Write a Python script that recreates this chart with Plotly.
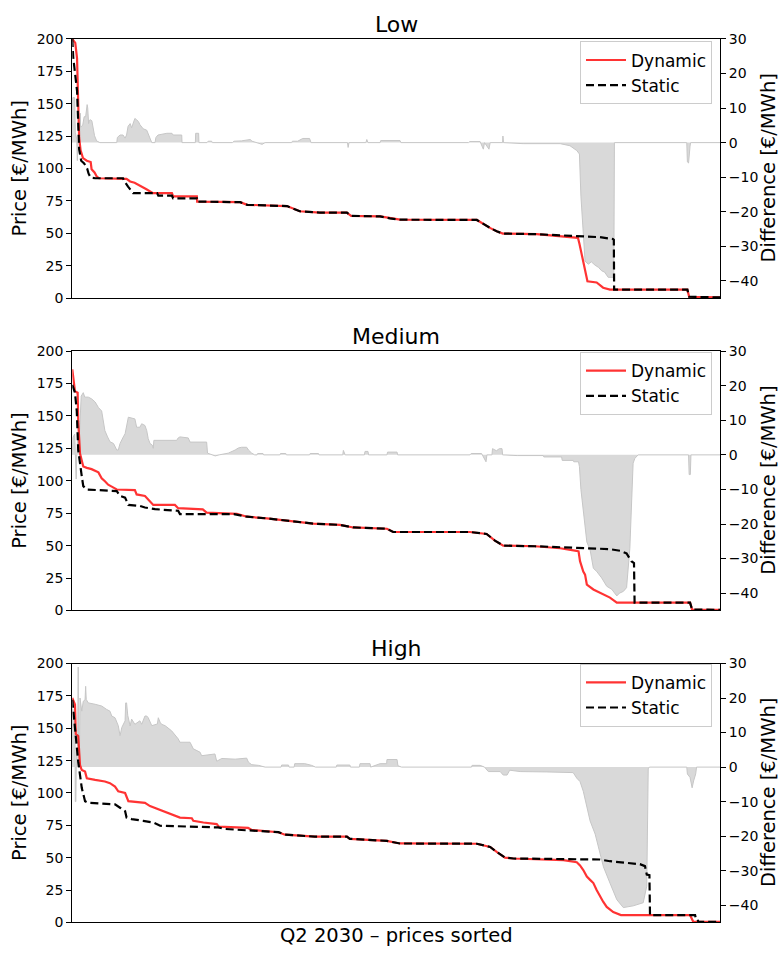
import plotly.graph_objects as go

# Sorted hourly prices for Q2 2030 (2184 hours), three demand-flexibility scenarios.
# Each series is given as (hour rank, value) breakpoints.

low_dynamic_h = [0, 10, 16, 20, 23, 28, 32, 36, 49, 62, 65, 75, 82, 90, 183, 195, 210, 228, 250, 272,
                 336, 340, 420, 421, 566, 590, 724, 767, 835, 926, 940, 1038, 1071, 1105, 1364, 1380,
                 1410, 1431, 1452, 1566, 1655, 1705, 1710, 1715, 1723, 1737, 1768, 1790, 1813, 2074,
                 2080, 2184]
low_dynamic_p = [200, 197, 185, 150, 124, 114, 110, 108, 106, 105, 99.5, 97, 94, 92.5, 92, 90, 89, 87, 84, 81,
                 81, 78.5, 78.5, 74.5, 74, 72, 71, 67, 66, 66, 63.5, 63, 61.5, 60.5, 60.3, 58,
                 54, 51.5, 49.8, 49.3, 47.6, 46.5, 42, 37, 29, 13, 12, 8, 6.5, 6.5,
                 1, 0.5]

low_static_h = [0, 3, 16, 20, 23, 30, 40, 50, 55, 62, 77, 171, 176, 188, 200, 205, 286, 290, 336, 340,
                420, 421, 566, 590, 724, 767, 835, 926, 940, 1038, 1071, 1105, 1364, 1380, 1410, 1431,
                1452, 1566, 1655, 1712, 1779, 1823, 1826, 1827, 2074, 2080, 2184]
low_static_p = [200, 186, 160, 135, 115, 106, 104, 100, 96, 93, 92.5, 92.5, 90, 86, 82, 81, 81, 79, 79, 77,
                77, 74.5, 74, 72, 71, 67, 66, 66, 63.5, 63, 61.5, 60.5, 60.3, 58, 54, 51.5,
                49.8, 49.3, 48.5, 48, 47, 45.5, 45, 6.5, 6.5, 1, 0.5]

low_diff_h = [0, 1, 8, 10, 15, 17, 19, 22, 25, 27, 28, 35, 40, 45, 48, 50, 52, 55, 58, 62, 66, 70, 75, 82,
              93, 150, 152, 161, 171, 178, 183, 188, 195, 200, 206, 211, 217, 223, 228, 234, 239, 251,
              256, 262, 268, 279, 282, 289, 302, 319, 336, 340, 369, 370, 415, 416, 426, 427, 454, 458,
              470, 472, 540, 545, 570, 600, 606, 620, 640, 650, 740, 742, 760, 777, 800, 805, 928, 930,
              933, 990, 993, 997, 1038, 1040, 1105, 1108, 1336, 1340, 1375, 1386, 1390, 1405, 1409,
              1451, 1452, 1454, 1520, 1645, 1655, 1678, 1701, 1710, 1715, 1723, 1729, 1740, 1750, 1763,
              1774, 1785, 1795, 1807, 1819, 1826, 1828, 2072, 2074, 2078, 2083, 2085, 2184]
low_diff_d = [0, 13, 13, 3, 1, -5.2, 0, 1.5, 2, 8.5, 4.5, 5, 7.5, 7.5, 9.5, 11, 10, 5.5, 6.5, 6.6, 6.3, 4, 2, 0.5,
              0, 0, 1.5, 2.2, 2.2, 1.3, 2.2, 4.7, 5.5, 4.3, 6.1, 7, 6.6, 6.1, 5.2, 4.7, 4, 3.6,
              2.4, 1, 0, 0, 1.5, 2.2, 2.5, 2.7, 2.7, 2.2, 2.2, 0, 0, 2.7, 2.7, 0, 0, 0.4,
              0.4, 0, 0, 0.4, 0.5, 0.9, 0.4, 0, -0.5, 0, 0, 0.4, 0.4, 1.2, 1.2, 0, 0, -1.4,
              0, 0, 0.9, 0, 0, 0.6, 0.6, 0, 0, 0.3, 0.3, -1.9, 0, -1.9, 0,
              0, 1.9, 0, -0.3, -0.3, -0.5, -0.9, -2.3, -3.3, -15.5, -24.9, -34.3, -35.2, -34.5, -35.5,
              -36.1, -37.1, -37.5, -39, -39, -39, 0, 0, -5.6, -5.9, -1, 0, 0]

medium_dynamic_h = [0, 5, 9, 18, 20, 26, 32, 37, 49, 65, 88, 99, 110, 121, 133, 150, 211, 217, 245, 256,
                    273, 346, 357, 440, 453, 555, 589, 656, 745, 812, 903, 947, 1061, 1082, 1341, 1397,
                    1425, 1453, 1560, 1645, 1700, 1707, 1712, 1723, 1729, 1735, 1757, 1791, 1813, 1836,
                    2083, 2090, 2184]
medium_dynamic_p = [186, 178, 169, 168, 146, 121, 114.8, 111, 110, 109, 106.5, 102, 99.6, 97, 95.5, 93.3, 92.8, 89.5, 88.3, 85.7,
                    81.4, 81.4, 78.9, 77.9, 75.4, 74.5, 72.3, 71, 69, 67, 66, 64, 63, 60.5, 60.5, 59,
                    53.9, 50, 49.5, 48, 46, 45.5, 38, 30, 27.6, 20, 16.2, 12.4, 9.9, 6,
                    6, 0.7, 0.5]

medium_static_h = [0, 9, 15, 20, 32, 37, 49, 121, 150, 161, 178, 189, 228, 245, 279, 357, 363, 545, 589,
                   656, 745, 812, 903, 947, 1061, 1082, 1341, 1397, 1425, 1453, 1560, 1645, 1712, 1813,
                   1847, 1869, 1885, 1894, 1896, 2083, 2090, 2184]
medium_static_p = [174, 168, 154, 123.6, 103.4, 95.9, 93.3, 92, 92, 88.3, 87, 81.4, 80.6, 79.4, 78.1, 76.9, 74.3, 74.3, 72.3,
                   71, 69, 67, 66, 64, 63, 60.5, 60.5, 59, 53.9, 50, 49.5, 48.6, 48.3, 47.3,
                   46, 44, 38, 36.5, 6, 6, 0.7, 0.5]

medium_diff_h = [0, 2, 8, 11, 13, 15, 17, 19, 22, 26, 30, 37, 42, 54, 65, 77, 88, 99, 105, 110, 119, 127, 139,
                 150, 155, 161, 172, 178, 189, 211, 217, 228, 234, 245, 251, 256, 262, 270, 273, 275, 352,
                 357, 363, 391, 397, 453, 456, 470, 482, 495, 526, 549, 560, 571, 588, 594, 605, 615, 623,
                 625, 643, 645, 700, 702, 720, 722, 800, 802, 830, 832, 912, 914, 920, 985, 987, 997, 999,
                 1061, 1063, 1095, 1097, 1341, 1345, 1380, 1395, 1398, 1415, 1417, 1430, 1440, 1449, 1451,
                 1500, 1588, 1590, 1650, 1652, 1689, 1691, 1707, 1710, 1715, 1723, 1729, 1735, 1746, 1757,
                 1768, 1785, 1802, 1819, 1836, 1845, 1858, 1869, 1880, 1891, 1897, 1908, 2078, 2080, 2084,
                 2086, 2184]
medium_diff_d = [0, 5, 6, 0, -7, 0, 4, 6, 2, 10, 17, 18, 16.7, 16.7, 16.2, 15.3, 13.7, 12.7, 9.9, 7, 5.2, 3.8, 3.3,
                 1.4, 1.4, 3.3, 5.2, 6.1, 10.9, 10.4, 8, 8, 9, 8.5, 7, 4.7, 3.3, 2.8, 1.9, 4.2, 4.2,
                 4.9, 5.2, 4.9, 3.7, 3.7, 0.5, 0, -0.3, 0, 0.5, 1.4, 2, 2.2, 2.2, 1.4, 0.5, 0, 0,
                 0.4, 0.4, 0, 0, 0.4, 0.4, 0, 0, 0.4, 0.4, 0, 0, 1.3, 0, 0, 1, 1, 0,
                 0, 0.8, 0.8, 0, 0, 0.4, 0.4, -2, 0, 0, 1.8, 1.2, 1.8, 1.8, 0,
                 -0.2, -0.2, -0.6, -0.6, -1.6, -1.6, -2, -2, -3.4, -10, -15.7, -21.4, -25.2, -27.5, -32.8,
                 -33.7, -35.6, -38, -38.9, -40.8, -40, -39.5, -38.4, -27.1, -2.4, -1, 0, 0, -5.7, -5.7,
                 0, 0]

high_dynamic_h = [0, 9, 12, 20, 26, 32, 43, 49, 77, 110, 127, 144, 155, 178, 189, 245, 262, 284, 307, 324,
                  346, 363, 403, 408, 442, 487, 494, 593, 605, 695, 717, 762, 818, 926, 936, 1060, 1105,
                  1364, 1409, 1431, 1459, 1487, 1656, 1701, 1712, 1723, 1735, 1746, 1757, 1768, 1779,
                  1790, 1802, 1824, 1850, 2083, 2094, 2184]
high_dynamic_p = [173.4, 168.4, 145.6, 144, 121.5, 117.7, 116.5, 111.4, 110.1, 108.9, 107.6, 105, 101.3, 100, 93.7, 92.4, 89.9, 88, 86, 84,
                  82.3, 81, 80.5, 78.5, 77.2, 76, 74, 73, 71.5, 69.7, 67.8, 67, 66.3, 66.3, 64.6, 63, 61,
                  60.8, 58.3, 54.5, 50.1, 49.4, 48.1, 46.5, 44, 40.5, 35.4, 32.9, 30.4, 25, 20,
                  16, 12, 8, 5.7, 5.7, 0.5, 0.5]

high_static_h = [0, 7, 15, 20, 32, 43, 54, 144, 161, 178, 183, 200, 239, 273, 296, 492, 515, 605, 695, 717,
                 762, 818, 926, 936, 1060, 1105, 1364, 1409, 1431, 1459, 1487, 1656, 1779, 1813, 1914,
                 1931, 1937, 1946, 1948, 2100, 2103, 2108, 2111, 2184]
high_static_p = [172, 154, 139, 124, 103.8, 93.7, 92.4, 91.2, 88.6, 86, 81, 79.8, 78.5, 77.2, 74.7, 73.4, 72.2, 71, 69.7, 67.8,
                 67, 66.3, 66.3, 64.6, 63, 61, 60.8, 58.3, 54.5, 50.1, 49.4, 48.8, 48.6, 47.3, 45,
                 43.5, 37, 36.5, 5.6, 5.6, 2.5, 2.5, 0.5, 0.5]

high_diff_h = [0, 1, 5, 9, 10, 12, 14, 18, 20, 21, 24, 26, 32, 37, 43, 45, 47, 54, 77, 99, 116, 127, 133, 144,
               155, 161, 167, 178, 180, 183, 187, 195, 200, 211, 228, 234, 245, 251, 256, 268, 287, 290,
               296, 301, 313, 335, 357, 363, 397, 408, 431, 436, 481, 487, 504, 549, 588, 594, 605, 628,
               650, 704, 706, 729, 731, 748, 750, 784, 807, 820, 890, 892, 936, 938, 968, 970, 1004,
               1006, 1038, 1060, 1061, 1095, 1098, 1110, 1346, 1348, 1375, 1390, 1403, 1443, 1453, 1466,
               1475, 1510, 1600, 1689, 1701, 1712, 1723, 1735, 1746, 1763, 1774, 1791, 1813, 1836, 1858,
               1891, 1925, 1937, 1942, 1946, 2072, 2074, 2083, 2090, 2095, 2102, 2105, 2184]
high_diff_d = [0, 17, 15, 12, -10, -10, 5, 6, 29, 5, 3, 20, 16.2, 19.1, 19.5, 23.4, 19.6, 18.6, 18.2, 17.7, 16.7, 16.2, 14.8, 14.3,
               12, 9.1, 11.5, 13.4, 18.6, 18.6, 15, 11.9, 13.9, 12.4, 13.4, 12.4, 14.8, 14.8, 14.3, 12, 12.5, 14.3,
               13, 12.4, 12, 10.5, 8.2, 7.2, 7.2, 5.3, 4.3, 3.3, 3.8, 1.7, 2.5, 2.3, 2.6, 1.4, 0.7, 0.5,
               0, 0, 0.6, 0.6, 0, 0, 1, 1, 0.5, 0, 0, 0.6, 0.6, 0, 0, 1, 1,
               0, 1, 1, 2.2, 2.2, 0.4, 0, 0, 0.5, 0.5, 0, -1.3, -1.3, -2.3, -2.3,
               -0.9, -1.3, -1.4, -1.6, -3.2, -4.2, -7, -11.8, -15.6, -19.4, -23.2, -28.9, -33.6, -38.4, -40.7,
               -40.2, -39.3, -34.5, -0.5, 0, 0, -2, -3, -6, -4, -2, 0, 0]

scenario_titles = ["Low", "Medium", "High"]
series_names = ["Dynamic", "Static"]
x_label = "Q2 2030 \u2013 prices sorted"
price_label = "Price [\u20ac/MWh]"
diff_label = "Difference [\u20ac/MWh]"
price_ticks = [0, 25, 50, 75, 100, 125, 150, 175, 200]
diff_ticks = [-40, -30, -20, -10, 0, 10, 20, 30]
hours_in_quarter = 2184

panels = [
    (low_dynamic_h, low_dynamic_p, low_static_h, low_static_p, low_diff_h, low_diff_d),
    (medium_dynamic_h, medium_dynamic_p, medium_static_h, medium_static_p, medium_diff_h, medium_diff_d),
    (high_dynamic_h, high_dynamic_p, high_static_h, high_static_p, high_diff_h, high_diff_d),
]

# ---- layout geometry (figure 781 x 956 px) ----
W, H = 781, 956
FONT = "DejaVu Sans"
x_dom = [72.3 / W, 720.0 / W]
panel_px = [(31.5, 295.0), (349.0, 612.7), (666.7, 930.0)]   # top, bottom in px
legend_top_px = [34.0, 350.0, 667.0]
title_px = [17.0, 334.0, 651.0]

fig = go.Figure()
layout = dict(
    width=W, height=H,
    margin=dict(l=0, r=0, t=0, b=0),
    paper_bgcolor="white", plot_bgcolor="white",
    font=dict(family=FONT, color="black", size=14),
    showlegend=True,
    annotations=[],
)

spine = dict(showline=True, linecolor="black", linewidth=1.1)

for i, (dh, dp, sh, sp, fh, fd) in enumerate(panels):
    top, bottom = panel_px[i]
    y_dom = [1 - bottom / H, 1 - top / H]
    n = i + 1
    xname = "x" if n == 1 else f"x{n}"
    diff_ax = 2 * n - 1
    price_ax = 2 * n
    dname = "y" if diff_ax == 1 else f"y{diff_ax}"
    pname = f"y{price_ax}"
    leg = "legend" if n == 1 else f"legend{n}"

    layout["xaxis" if n == 1 else f"xaxis{n}"] = dict(
        domain=x_dom, range=[0, hours_in_quarter], anchor=dname,
        showticklabels=False, ticks="", showgrid=False, zeroline=False,
        mirror=True, **spine,
    )
    # difference axis (right side) carries the filled area underneath
    layout["yaxis" if diff_ax == 1 else f"yaxis{diff_ax}"] = dict(
        domain=y_dom, range=[-45, 30], anchor=xname, side="right",
        tickvals=diff_ticks, ticks="outside", ticklen=5, tickwidth=1.1, tickcolor="black",
        tickfont=dict(size=14, family=FONT), showgrid=False, zeroline=False, **spine,
    )
    # price axis (left side) overlays it so the price curves sit on top
    layout[f"yaxis{price_ax}"] = dict(
        range=[0, 200], anchor=xname, overlaying=dname, side="left",
        tickvals=price_ticks, ticks="outside", ticklen=5, tickwidth=1.1, tickcolor="black",
        tickfont=dict(size=14, family=FONT), showgrid=False, zeroline=False, **spine,
    )

    fig.add_trace(go.Scatter(
        x=fh, y=fd, xaxis=xname, yaxis=dname, mode="lines",
        line=dict(color="#c6c6c6", width=1), fill="tozeroy", fillcolor="#d9d9d9",
        showlegend=False, hoverinfo="skip",
    ))
    fig.add_trace(go.Scatter(
        x=dh, y=dp, xaxis=xname, yaxis=pname, mode="lines", name=series_names[0],
        line=dict(color="rgba(255,0,0,0.8)", width=2.2), legend=leg,
    ))
    fig.add_trace(go.Scatter(
        x=sh, y=sp, xaxis=xname, yaxis=pname, mode="lines", name=series_names[1],
        line=dict(color="black", width=2.2, dash="8px,4px"), legend=leg,
    ))

    layout[leg] = dict(
        x=712.0 / W, y=1 - legend_top_px[i] / H, xanchor="right", yanchor="top",
        bgcolor="rgba(255,255,255,0.85)", bordercolor="#cccccc", borderwidth=1,
        font=dict(size=17, family=FONT), itemwidth=40, tracegroupgap=2,
    )

    mid = (top + bottom) / 2
    layout["annotations"] += [
        dict(text=scenario_titles[i], x=(x_dom[0] + x_dom[1]) / 2, y=1 - title_px[i] / H,
             xref="paper", yref="paper", xanchor="center", yanchor="middle",
             showarrow=False, font=dict(size=22, family=FONT)),
        dict(text=price_label, x=20.0 / W, y=1 - mid / H, xref="paper", yref="paper",
             xanchor="center", yanchor="middle", textangle=-90, showarrow=False,
             font=dict(size=19.5, family=FONT)),
        dict(text=diff_label, x=769.0 / W, y=1 - mid / H, xref="paper", yref="paper",
             xanchor="center", yanchor="middle", textangle=-90, showarrow=False,
             font=dict(size=19.5, family=FONT)),
    ]

layout["annotations"].append(
    dict(text=x_label, x=(x_dom[0] + x_dom[1]) / 2, y=1 - 943.0 / H, xref="paper", yref="paper",
         xanchor="center", yanchor="middle", showarrow=False, font=dict(size=19.5, family=FONT))
)

fig.update_layout(**layout)
fig.write_html("out.html")
